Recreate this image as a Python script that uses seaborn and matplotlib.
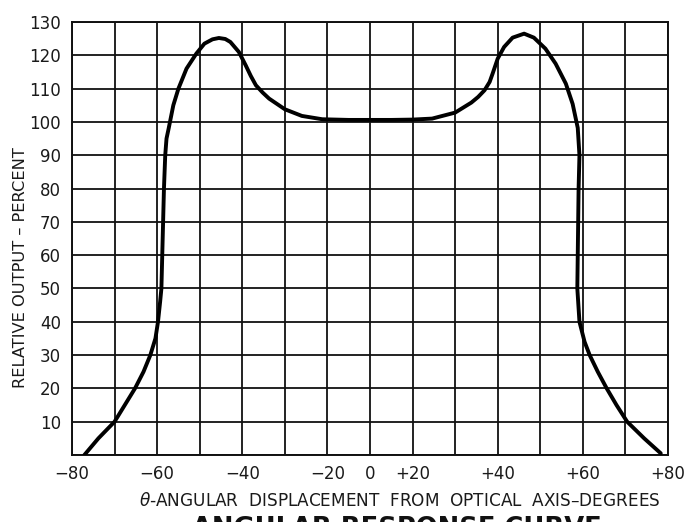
import numpy as np
import pandas as pd
import matplotlib
matplotlib.use("Agg")
import matplotlib.pyplot as plt
import seaborn as sns

# curve (degrees, percent), traced left to right
angle_deg = [-77.1, -73.8, -70.0, -67.6, -65.2, -63.2, -61.6, -60.4, -59.8,
             -59.3, -59.0, -58.8, -58.6, -58.4, -58.1, -57.8, -57.3, -56.2,
             -55.0, -53.1, -50.8, -48.9, -47.0, -45.5, -44.0, -42.8, -40.8,
             -39.2, -38.0, -36.8, -35.2, -33.7, -30.0, -26.0, -21.2, -10.0,
             0.0, 10.0, 20.0, 24.6, 30.0, 33.8, 35.4, 36.9, 38.1, 38.8, 40.0,
             41.5, 43.5, 46.2, 48.5, 51.2, 53.6, 56.0, 57.6, 58.8, 59.2, 59.0,
             58.9, 58.8, 58.7, 59.2, 60.4, 61.6, 63.5, 65.6, 67.9, 70.4, 74.4,
             78.3]
output_pct = [0.0, 5.0, 10.0, 15.0, 20.0, 25.0, 30.0, 35.0, 40.0,
              46.0, 50.0, 60.0, 70.0, 80.0, 90.0, 95.0, 98.0, 105.0,
              110.0, 116.0, 120.5, 123.5, 124.8, 125.2, 124.9, 124.0, 121.0,
              117.0, 113.8, 111.0, 108.8, 107.0, 103.8, 101.8, 100.8, 100.6,
              100.6, 100.6, 100.7, 101.0, 102.8, 105.8, 107.5, 109.5, 112.0, 114.5, 119.0,
              122.5, 125.3, 126.5, 125.3, 122.0, 117.5, 111.5, 105.4, 98.2, 90.0, 80.0,
              70.0, 60.0, 50.0, 40.0, 34.0, 30.0, 25.0, 20.0, 15.0, 10.0, 5.0,
              0.5]

# axis grid / labels (the chart's x scale is 20 deg per cell between -20 and +20)
grid_x = [-80, -70, -60, -50, -40, -30, -20, 0, 20, 30, 40, 50, 60, 70, 80]
x_labels = {-80: "\u221280", -60: "\u221260", -40: "\u221240", -20: "\u221220",
            0: "0", 20: "+20", 40: "+40", 60: "+60", 80: "+80"}
grid_y = list(range(0, 140, 10))
y_labels = {v: str(v) for v in range(10, 140, 10)}

X_TITLE = "$\\theta$-ANGULAR  DISPLACEMENT  FROM  OPTICAL  AXIS\u2013DEGREES"
Y_TITLE = "RELATIVE OUTPUT \u2013 PERCENT"
CHART_TITLE = "ANGULAR RESPONSE CURVE"


def fwd(d):
    d = np.asarray(d, dtype=float)
    a = np.abs(d)
    return np.where(a <= 20, d / 20.0, np.sign(d) * (1 + (a - 20) / 10.0))


def inv(u):
    u = np.asarray(u, dtype=float)
    a = np.abs(u)
    return np.where(a <= 1, u * 20.0, np.sign(u) * (20 + (a - 1) * 10.0))


def main():
    sns.set_style("white")
    plt.rcParams["font.family"] = ["DejaVu Sans"]

    df = pd.DataFrame({"angle": angle_deg, "output": output_pct})

    fig = plt.figure(figsize=(6.93, 5.22), dpi=100)
    ax = fig.add_axes([72 / 693, 1 - 455 / 522, 596 / 693, 433 / 522])
    ax.set_xscale("function", functions=(fwd, inv))

    sns.lineplot(data=df, x="angle", y="output", sort=False, estimator=None,
                 color="black", linewidth=2.8, ax=ax, zorder=3)
    for ln in ax.lines:
        ln.set_solid_joinstyle("round")
        ln.set_solid_capstyle("round")

    ax.set_xlim(-80, 80)
    ax.set_ylim(0, 130)
    ax.set_xticks(grid_x)
    ax.set_xticklabels([x_labels.get(v, "") for v in grid_x])
    ax.set_yticks(grid_y)
    ax.set_yticklabels([y_labels.get(v, "") for v in grid_y])
    ax.tick_params(axis="both", length=0, labelsize=12, colors="#1a1a1a")
    ax.tick_params(axis="x", pad=7)
    ax.tick_params(axis="y", pad=8)
    ax.grid(True, color="#111111", linewidth=1.3)
    for sp in ax.spines.values():
        sp.set_color("#111111")
        sp.set_linewidth(1.4)

    ax.set_xlabel(X_TITLE, fontsize=12.2, color="#1a1a1a")
    ax.xaxis.set_label_coords(0.55, -0.085)
    ax.set_ylabel(Y_TITLE, fontsize=11.7, color="#1a1a1a")
    ax.yaxis.set_label_coords(-0.074, 0.434)

    # the title sits partly below the bottom edge, as in the scanned original
    fig.text(0.572, -0.027, CHART_TITLE, fontsize=18.5, weight="bold",
             ha="center", va="baseline", color="#111111")

    fig.savefig("out.png", dpi=100)
    plt.close(fig)


if __name__ == "__main__":
    main()
